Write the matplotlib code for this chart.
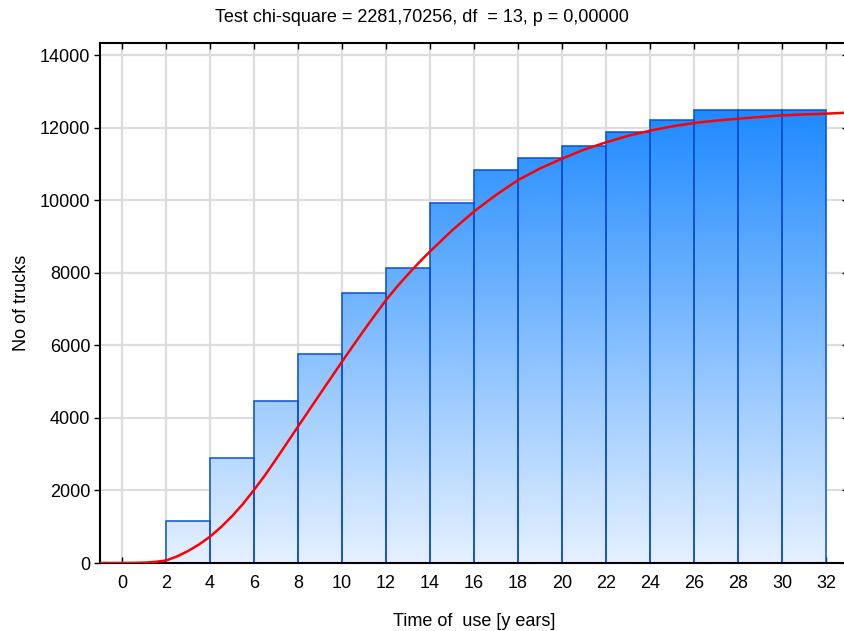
import numpy as np
import matplotlib
matplotlib.use("Agg")
import matplotlib.pyplot as plt
from matplotlib.path import Path
from matplotlib.patches import PathPatch

# cumulative counts per 2-year class
bin_left = [2, 4, 6, 8, 10, 12, 14, 16, 18, 20, 22, 24, 26, 28, 30]
counts = [1159, 2889, 4471, 5760, 7443, 8133, 9926, 10837, 11168, 11510,
          11886, 12226, 12501, 12501, 12501]
bin_width = 2

# fitted cumulative curve
curve_x = [-1, 0, 0.5, 1, 1.5, 2, 2.5, 3, 3.5, 4, 4.5, 5, 5.5, 6, 6.5, 7, 7.5,
           8, 8.5, 9, 9.5, 10, 10.5, 11, 11.5, 12, 12.5, 13, 13.5, 14, 15, 16,
           17, 18, 19, 20, 21, 22, 23, 24, 25, 26, 27, 28, 29, 30, 31, 32, 33]
curve_y = [0, 0, 2, 10, 30, 70, 180, 330, 510, 726, 990, 1290, 1630, 2015,
           2420, 2860, 3310, 3762, 4210, 4660, 5105, 5550, 5990, 6420, 6840,
           7250, 7620, 7960, 8285, 8592, 9170, 9695, 10150, 10560, 10880,
           11150, 11400, 11600, 11780, 11922, 12040, 12134, 12200, 12253,
           12300, 12344, 12370, 12391, 12420]

xticks = list(range(0, 33, 2))
yticks = list(range(0, 14001, 2000))

plt.rcParams['font.family'] = ['Liberation Sans', 'DejaVu Sans']

fig = plt.figure(figsize=(8.45, 6.31), dpi=100)
W, H = 845, 631
ax = fig.add_axes([100 / W, (H - 563) / H, 748 / W, 520 / H])
ymax = 14340
ax.set_xlim(-1, 33)
ax.set_ylim(0, ymax)

ax.grid(True, color='#dddddd', linewidth=1.6, zorder=0)
ax.set_axisbelow(True)

# vertical gradient clipped to the bars
top = np.array([30, 138, 255]) / 255
bot = np.array([230, 241, 255]) / 255
ys = np.linspace(0, ymax, 400)
frac = np.clip(ys / 12500, 0, 1)[:, None]
grad = (bot + (top - bot) * frac)[:, None, :]
im = ax.imshow(grad, extent=(-1, 33, 0, ymax), origin='lower',
               aspect='auto', zorder=1, interpolation='bilinear')
rects = []
for x0, h in zip(bin_left, counts):
    rects.append(Path([(x0, 0), (x0 + bin_width, 0), (x0 + bin_width, h),
                       (x0, h), (x0, 0)], closed=True))
clip = PathPatch(Path.make_compound_path(*rects), transform=ax.transData,
                 facecolor='none', edgecolor='none')
ax.add_patch(clip)
im.set_clip_path(clip)

ax.bar(bin_left, counts, width=bin_width, align='edge', facecolor='none',
       edgecolor='#0c4fd0', linewidth=1.1, zorder=2)

ax.plot(curve_x, curve_y, color='#ff0000', linewidth=1.8, zorder=3,
        solid_joinstyle='round')

ax.set_xticks(xticks)
ax.set_yticks(yticks)
ax.tick_params(axis='x', direction='in', top=True, bottom=True, length=4,
               width=1, labelsize=13, pad=9)
ax.tick_params(axis='y', direction='out', left=True, right=False, length=4,
               width=1, labelsize=13, pad=3)
for s in ax.spines.values():
    s.set_linewidth(1.5)

ax2 = ax.twinx()
ax2.set_ylim(0, ymax)
ax2.set_yticks(yticks)
ax2.tick_params(axis='y', direction='in', length=4, width=1, labelright=False)
ax2.spines[:].set_visible(False)

ax.set_xlabel('Time of  use [y ears]', fontsize=13, labelpad=15)
ax.set_ylabel('No of trucks', fontsize=13, labelpad=7)
fig.text(422 / W, 1 - 18 / H, 'Test chi-square = 2281,70256, df  = 13, p = 0,00000',
         ha='center', va='center', fontsize=13)

fig.savefig('out.png', dpi=100)
